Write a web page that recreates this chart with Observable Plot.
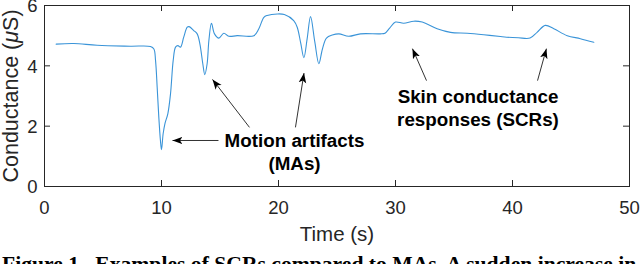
<!DOCTYPE html>
<html>
<head>
<meta charset="utf-8">
<script src="https://cdn.jsdelivr.net/npm/d3@7"></script>
<script src="https://cdn.jsdelivr.net/npm/@observablehq/plot@0.6"></script>
<style>
  html, body { margin: 0; padding: 0; background: white; width: 640px; height: 264px; overflow: hidden; }
  #chart svg { display: block; }
  #caption { font-family: 'Liberation Serif', 'Times New Roman', serif; font-weight: bold; font-size: 21px; line-height: 1; white-space: nowrap; color: #000; margin-left: 2px; margin-top: 4px; }
</style>
</head>
<body>
<div id="chart"></div>
<div id="caption"><span id="capspan">Figure 1.&nbsp; Examples of SCRs compared to MAs. A sudden increase in</span></div>
<script>
// ---- data ----
const timeS = [1.0, 2.5, 4.5, 7.35, 9.06, 9.35, 9.49, 9.63, 9.77, 9.91, 10.0, 10.14, 10.29, 10.54, 10.77, 11.0, 11.2, 11.4, 11.62, 11.9, 12.2, 12.36, 12.76, 13.05, 13.28, 13.53, 13.7, 13.9, 14.05, 14.27, 14.53, 14.9, 15.33, 15.75, 16.47, 17.9, 18.32, 18.75, 19.03, 19.9, 20.5, 21.3, 21.6, 21.9, 22.17, 22.45, 22.74, 23.1, 23.45, 23.75, 24.1, 24.6, 25.16, 26.0, 27.0, 28.7, 29.1, 29.5, 30.0, 30.7, 31.56, 32.28, 33.56, 34.7, 36.13, 37.55, 38.97, 39.5, 40.5, 41.5, 42.1, 42.8, 43.53, 44.68, 45.8, 46.95];
const conductance = [4.72, 4.74, 4.68, 4.65, 4.64, 4.56, 4.18, 3.29, 2.30, 1.52, 1.22, 1.75, 2.08, 2.41, 3.07, 4.18, 4.62, 4.67, 4.62, 4.95, 5.28, 5.30, 5.17, 5.06, 4.73, 4.07, 3.71, 4.07, 4.84, 5.41, 5.06, 4.92, 5.08, 4.98, 5.00, 5.00, 5.23, 5.61, 5.67, 5.72, 5.70, 5.50, 5.28, 4.75, 4.27, 4.90, 5.63, 4.80, 4.07, 4.55, 4.92, 5.02, 5.06, 4.98, 5.06, 5.06, 5.08, 5.25, 5.45, 5.41, 5.48, 5.45, 5.23, 5.11, 5.08, 5.03, 4.97, 4.95, 4.93, 4.92, 5.11, 5.34, 5.23, 5.00, 4.90, 4.78];

const xTicks = [0, 10, 20, 30, 40, 50];
const yTicks = [0, 2, 4, 6];

const noteText = ["Motion artifacts\n(MAs)", "Skin conductance\nresponses (SCRs)"];
const noteX = [21.37, 37.05];
const noteY = [1.17, 2.63];

// arrows: tail (x1,y1) -> tip (x2,y2)
const arrowX1 = [14.87, 17.52, 21.45, 32.65, 42.14];
const arrowY1 = [1.525, 1.96, 1.96, 3.51, 3.51];
const arrowX2 = [10.94, 14.36, 22.18, 31.45, 42.9];
const arrowY2 = [1.525, 3.55, 3.76, 4.57, 4.57];

const xLabel = "Time (s)";
const yLabel = "Conductance (μS)";

// ---- build ----
const W = 640, H = 250, mT = 5, mR = 11, mB = 64, mL = 44;
const plotW = W - mL - mR, plotH = H - mT - mB;
const series = timeS.map((t, i) => ({t, v: conductance[i]}));
const arrows = arrowX1.map((x1, i) => ({x1, y1: arrowY1[i], x2: arrowX2[i], y2: arrowY2[i]}));
const notes = noteText.map((s, i) => ({s, x: noteX[i], y: noteY[i]}));

function headMarker(color, context) {
  const ns = "http://www.w3.org/2000/svg";
  const m = context.document.createElementNS(ns, "marker");
  m.setAttribute("viewBox", "-10 -5 10 10");
  m.setAttribute("markerWidth", "10");
  m.setAttribute("markerHeight", "10");
  m.setAttribute("markerUnits", "userSpaceOnUse");
  m.setAttribute("refX", "0");
  m.setAttribute("refY", "0");
  m.setAttribute("orient", "auto");
  const p = context.document.createElementNS(ns, "path");
  p.setAttribute("d", "M0,0L-10,-3.8L-7.5,0L-10,3.8Z");
  p.setAttribute("fill", "#000");
  p.setAttribute("stroke", "none");
  m.appendChild(p);
  return m;
}

function build(marker) {
  return Plot.plot({
    width: W, height: H,
    marginTop: mT, marginRight: mR, marginBottom: mB, marginLeft: mL,
    style: {fontFamily: "'Liberation Sans', Arial, Helvetica, sans-serif", fontSize: "18.5px", color: "#262626", background: "white", overflow: "visible"},
    x: {domain: [0, 50]},
    y: {domain: [0, 6]},
    marks: [
      Plot.axisX({ticks: xTicks, tickSize: 0, tickPadding: 14, label: null, tickFormat: d => String(d)}),
      Plot.axisY({ticks: yTicks, tickSize: 0, tickPadding: 7, label: null, tickFormat: d => String(d), dy: 1}),
      Plot.tickX(xTicks, {x: d => d, stroke: "#262626", insetTop: plotH - 6}),
      Plot.tickX(xTicks, {x: d => d, stroke: "#262626", insetBottom: plotH - 6}),
      Plot.tickY(yTicks, {y: d => d, stroke: "#262626", insetRight: plotW - 6}),
      Plot.tickY(yTicks, {y: d => d, stroke: "#262626", insetLeft: plotW - 6}),
      Plot.frame({stroke: "#262626", strokeWidth: 1}),
      Plot.line(series, {x: "t", y: "v", stroke: "#3a94d8", strokeWidth: 1.1, curve: "catmull-rom"}),
      Plot.link(arrows, {x1: "x1", y1: "y1", x2: "x2", y2: "y2", stroke: "#333", strokeWidth: 1, markerEnd: marker}),
      Plot.text(notes, {x: "x", y: "y", text: "s", fontWeight: "bold", fontSize: 18.8, fill: "#000", lineHeight: 1.24, lineAnchor: "middle", textAnchor: "middle"}),
      Plot.text([xLabel], {frameAnchor: "bottom", dy: 47.5, fontSize: 20.5, fill: "#262626", lineAnchor: "middle", textAnchor: "middle"}),
      Plot.text([yLabel], {frameAnchor: "left", dx: -33, rotate: -90, fontSize: 21.5, fill: "#262626", lineAnchor: "middle", textAnchor: "middle"})
    ]
  });
}

let chart;
try { chart = build(headMarker); } catch (e) { chart = build("arrow"); }
document.getElementById("chart").appendChild(chart);

// italic μ in the y label (as in the reference)
chart.querySelectorAll("text").forEach(t => {
  if (t.textContent === yLabel) {
    const target = t.querySelector("tspan") || t;
    const txt = target.textContent;
    const k = txt.indexOf("μ");
    if (k >= 0) {
      const ns = "http://www.w3.org/2000/svg";
      target.textContent = "";
      const a = document.createElementNS(ns, "tspan"); a.textContent = txt.slice(0, k);
      const b = document.createElementNS(ns, "tspan"); b.textContent = "μ"; b.setAttribute("font-style", "italic");
      const c = document.createElementNS(ns, "tspan"); c.textContent = txt.slice(k + 1);
      target.appendChild(a); target.appendChild(b); target.appendChild(c);
    }
  }
});

// fit caption width
const span = document.getElementById("capspan");
const w = span.getBoundingClientRect().width;
const cap = document.getElementById("caption");
cap.style.fontSize = (21 * 635 / w) + "px";
</script>
</body>
</html>
